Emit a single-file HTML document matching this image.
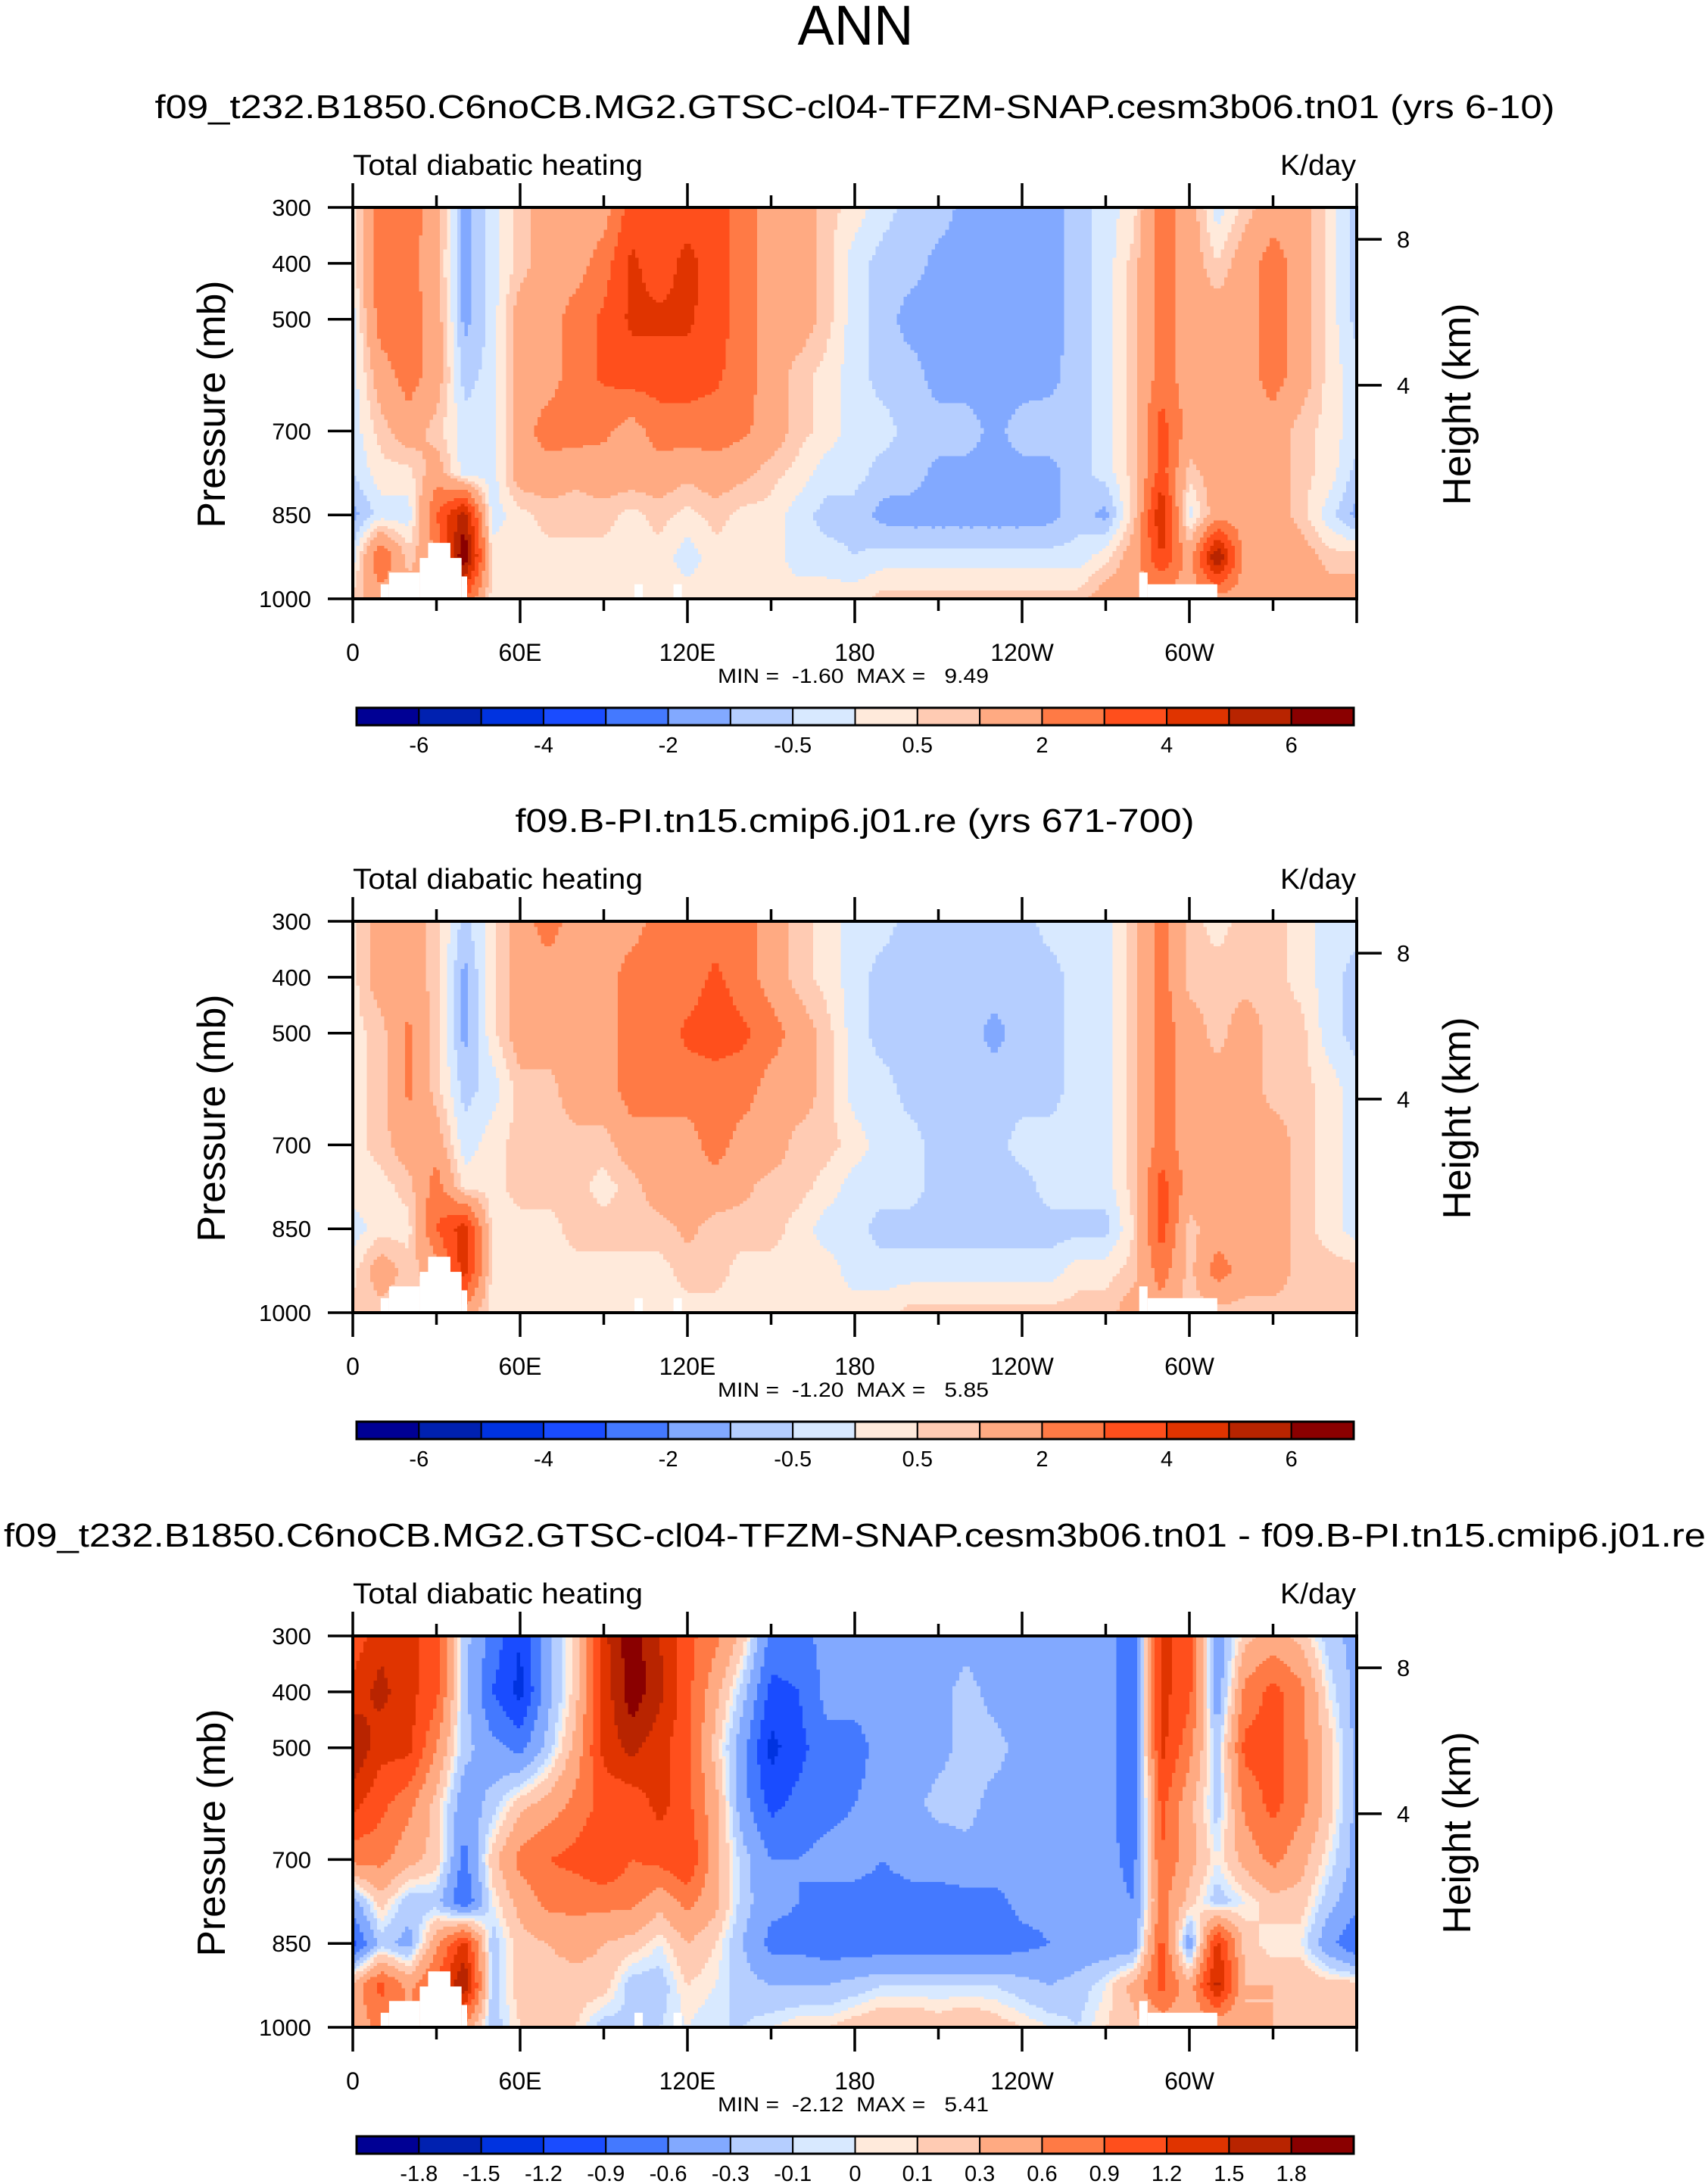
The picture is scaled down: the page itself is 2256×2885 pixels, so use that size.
<!DOCTYPE html>
<html><head><meta charset="utf-8"><title>ANN Total diabatic heating</title>
<style>
html,body{margin:0;padding:0;background:#fff;}
svg{display:block;}
text{font-family:"Liberation Sans",Arial,sans-serif;fill:#000;white-space:pre;}
</style></head>
<body>
<svg id="chart" xmlns="http://www.w3.org/2000/svg" width="2256" height="2885" viewBox="0 0 2256 2885">
<rect x="0" y="0" width="2256" height="2885" fill="#fff"/>
<text x="1130" y="59" font-size="74" text-anchor="middle" textLength="153" lengthAdjust="spacingAndGlyphs">ANN</text>
</svg>
<script>
// ---------- data ----------
const pressureLevels = [300,400,500,600,700,775,850,925,1000];
const longitudes = [0,10,20,30,40,50,60,70,80,90,100,110,120,130,140,150,160,170,180,190,200,210,220,230,240,250,260,270,280,290,300,310,320,330,340,350,360];

const field1 = [
[0.3,2.5,2.5,1.5,-1.2,-0.3,0.7,1.5,1.5,1.5,3.5,3.5,3.5,3.5,2.5,1.5,1.5,0.7,0.3,-0.3,-0.7,-0.7,-1.2,-1.3,-1.2,-1.3,-0.7,-0.3,0.3,2.5,1.5,-0.3,0.7,1.5,1.5,0.3,-0.7],
[0.3,2.5,2.5,1.2,-1.2,-0.3,0.7,1.5,1.5,2.5,4.2,3.5,4.3,3.5,2.5,1.5,1.5,0.7,-0.3,-0.7,-0.7,-1.2,-1.3,-1.3,-1.3,-1.3,-0.7,-0.3,0.7,2.5,1.5,0.5,1.5,2.5,1.5,0.3,-0.7],
[-0.3,2.5,2.5,1.5,-1.2,-0.3,1.5,1.5,2.5,3.2,4.2,4.2,4.2,3.5,2.5,1.5,1.5,0.7,-0.3,-0.7,-1.3,-1.3,-1.3,-1.3,-1.3,-1.3,-0.7,-0.3,0.7,2.5,1.5,1.5,1.5,2.5,1.5,0.3,-0.7],
[-0.3,1.5,2.5,1.5,-0.7,-0.3,1.5,1.5,2.5,3.2,3.5,3.5,3.5,3.2,2.5,1.5,0.7,0.3,-0.3,-0.7,-0.7,-1.3,-1.3,-1.3,-1.3,-1.2,-0.7,-0.3,0.7,2.5,1.5,1.5,1.5,2.5,1.5,0.3,-0.3],
[-0.3,0.7,1.5,0.7,-0.3,-0.3,1.5,2.5,2.5,2.2,1.5,2.5,2.5,2.5,2.2,1.5,0.7,0.3,-0.3,-0.3,-0.7,-0.7,-0.7,-1.2,-0.7,-0.7,-0.7,-0.3,0.7,3.5,1.5,1.5,1.5,1.5,0.7,0.3,-0.3],
[-0.5,0.3,0.3,1.5,-0.3,-0.3,1.5,1.5,1.2,1.5,1.5,1.5,1.2,1.5,1.2,0.7,0.3,-0.3,-0.3,-0.7,-0.7,-1.2,-1.2,-1.3,-1.2,-1.2,-0.7,-0.3,0.7,3.5,0.7,1.5,1.5,1.5,0.7,0.3,-0.7],
[-1.2,-0.3,-0.3,3.0,5.5,-0.3,0.3,0.7,0.7,0.7,0.3,0.7,0.3,0.7,0.3,0.3,-0.3,-0.7,-0.7,-1.2,-1.3,-1.3,-1.3,-1.3,-1.3,-1.2,-0.7,-1.2,0.7,5.0,-0.3,1.5,1.5,1.5,0.7,-0.3,-1.2],
[-0.3,3.0,0.7,2.0,7.0,0.3,0.3,0.3,0.3,0.3,0.3,0.3,-0.3,0.3,0.3,0.3,-0.3,-0.3,-0.5,-0.3,-0.3,-0.3,-0.3,-0.3,-0.3,-0.3,-0.3,0.3,1.5,4.0,1.5,6.0,1.5,1.5,1.5,0.7,0.7],
[0.7,1.5,1.5,1.5,3.0,0.3,0.3,0.3,0.3,0.3,0.3,0.3,0.3,0.3,0.3,0.3,0.3,0.3,0.3,0.7,0.7,0.7,0.7,0.7,0.7,0.7,0.7,1.5,1.5,1.5,1.5,1.5,1.5,1.5,1.5,1.5,1.5]
];

const field2 = [
[0.3,1.5,1.5,0.7,-0.7,0.3,1.5,2.5,1.5,1.5,1.5,2.5,2.5,2.5,2.5,1.5,0.7,0.3,-0.3,-0.3,-0.7,-0.7,-0.7,-0.7,-0.7,-0.3,-0.3,-0.3,0.7,2.5,0.7,0.3,0.7,0.7,0.3,-0.3,-0.3],
[0.3,1.5,1.5,0.7,-1.2,0.3,1.5,1.5,1.5,1.5,2.5,2.5,2.5,3.2,2.5,1.5,0.7,0.3,-0.3,-0.7,-0.7,-0.7,-0.7,-0.7,-0.7,-0.7,-0.3,-0.3,0.7,2.5,0.7,0.7,0.7,0.7,0.3,-0.3,-0.7],
[0.3,0.7,2.2,0.7,-1.2,0.3,1.5,1.5,1.5,1.5,2.5,2.5,3.2,3.5,3.2,2.5,1.5,0.7,-0.3,-0.7,-0.7,-0.7,-0.7,-1.2,-0.7,-0.7,-0.3,-0.3,0.7,2.5,1.5,0.7,1.5,0.7,0.7,-0.3,-0.7],
[0.3,0.7,2.2,0.7,-0.7,-0.3,0.7,0.7,1.5,1.5,2.5,2.5,2.5,2.5,2.5,1.5,1.5,0.7,-0.3,-0.3,-0.7,-0.7,-0.7,-0.7,-0.7,-0.7,-0.3,-0.3,0.7,2.5,1.5,1.5,1.5,0.7,0.7,0.3,-0.3],
[0.3,0.7,1.5,1.5,-0.3,0.3,0.7,0.7,0.7,0.7,1.5,1.5,1.5,2.5,1.5,1.5,0.7,0.7,0.3,-0.3,-0.3,-0.7,-0.7,-0.7,-0.3,-0.3,-0.3,-0.3,0.7,2.5,1.5,1.5,1.5,1.5,0.7,0.3,-0.3],
[0.3,0.3,0.7,2.5,0.3,0.3,0.7,0.7,0.7,0.3,0.7,1.5,1.5,1.5,1.2,0.7,0.7,0.3,-0.3,-0.3,-0.3,-0.7,-0.7,-0.7,-0.7,-0.3,-0.3,-0.3,0.7,3.5,1.5,1.5,1.5,1.5,0.7,0.3,-0.3],
[-0.3,0.3,0.3,3.0,4.5,0.3,0.3,0.3,0.7,0.7,0.7,0.7,1.2,0.7,0.7,0.7,0.3,-0.3,-0.3,-0.7,-0.7,-0.7,-0.7,-0.7,-0.7,-0.7,-0.7,-0.7,0.5,3.5,0.7,1.5,1.5,1.5,0.7,0.3,-0.3],
[0.3,1.5,0.7,1.5,4.5,0.3,0.3,0.3,0.3,0.3,0.3,0.3,0.7,0.7,0.3,0.3,0.3,0.3,-0.3,-0.3,-0.3,-0.3,-0.3,-0.3,-0.3,-0.3,0.3,0.3,0.7,2.5,0.7,2.5,1.5,1.5,0.7,0.7,0.7],
[0.7,0.7,0.7,0.7,1.5,0.3,0.3,0.3,0.3,0.3,0.3,0.3,0.3,0.3,0.3,0.3,0.3,0.3,0.3,0.3,0.7,0.7,0.7,0.7,0.7,0.7,0.7,0.7,1.5,1.5,0.7,0.7,0.7,0.7,0.7,0.7,0.7]
];

const field3 = [
[1.0,1.4,1.3,1.0,-0.2,-0.7,-1.2,-0.4,0.2,1.4,2.0,1.5,1.0,0.7,0.2,-0.7,-0.7,-0.5,-0.5,-0.4,-0.4,-0.5,-0.4,-0.5,-0.5,-0.5,-0.5,-0.5,-0.8,1.3,1.0,-0.5,0.2,0.4,0.2,-0.2,-0.4],
[1.3,1.6,1.3,1.0,-0.2,-0.9,-1.3,-0.4,0.2,1.3,2.0,1.6,1.0,0.4,-0.2,-1.0,-0.9,-0.5,-0.5,-0.5,-0.5,-0.4,-0.2,-0.4,-0.5,-0.5,-0.5,-0.5,-0.8,1.3,1.0,-0.5,0.7,1.0,0.7,0.0,-0.4],
[1.8,1.3,1.3,0.6,-0.2,-0.5,-0.7,-0.2,0.4,1.3,1.6,1.3,1.0,0.2,-0.5,-1.3,-1.0,-0.7,-0.7,-0.5,-0.5,-0.4,-0.2,-0.2,-0.4,-0.5,-0.5,-0.5,-0.8,1.3,0.7,-0.2,1.0,1.0,0.7,0.2,-0.4],
[1.3,1.0,0.7,0.2,-0.5,-0.2,0.2,0.4,0.7,1.0,1.0,1.3,1.0,0.4,-0.5,-1.0,-0.8,-0.7,-0.6,-0.5,-0.4,-0.2,-0.2,-0.4,-0.4,-0.5,-0.5,-0.5,-0.8,1.0,0.4,-0.2,0.7,1.0,0.7,0.2,-0.4],
[0.7,0.7,0.4,0.2,-0.7,0.2,0.7,0.9,1.0,1.2,0.9,1.0,1.2,0.4,-0.2,-0.6,-0.6,-0.5,-0.5,-0.6,-0.5,-0.5,-0.4,-0.4,-0.5,-0.5,-0.5,-0.5,-0.7,0.9,0.4,0.0,0.4,0.7,0.4,0.0,-0.4],
[-0.4,0.2,-0.2,-0.2,-0.9,0.0,0.4,0.7,0.7,0.7,0.7,0.4,0.7,0.4,-0.2,-0.5,-0.6,-0.7,-0.7,-0.7,-0.7,-0.7,-0.7,-0.7,-0.5,-0.5,-0.5,-0.5,-0.6,0.7,0.2,-0.2,0.0,0.2,0.2,-0.2,-0.5],
[-1.0,-0.2,-0.4,0.5,1.3,-0.2,0.2,0.3,0.4,0.3,0.2,0.0,0.3,0.1,-0.3,-0.7,-0.7,-0.8,-0.8,-0.8,-0.8,-0.8,-0.8,-0.8,-0.7,-0.6,-0.5,-0.5,-0.5,1.0,-0.5,1.3,0.2,0.0,0.0,-0.5,-0.9],
[0.4,1.0,0.5,1.0,1.8,-0.2,0.2,0.2,0.2,0.2,-0.2,-0.2,0.1,0.0,-0.2,-0.3,-0.3,-0.3,-0.2,-0.1,-0.1,-0.1,-0.1,-0.1,-0.2,-0.3,-0.2,0.0,0.4,1.0,0.4,1.6,0.3,0.3,0.3,0.2,0.2],
[0.4,0.7,0.7,0.7,0.5,-0.2,0.1,0.2,0.1,-0.2,-0.1,-0.1,0.0,-0.1,-0.1,0.0,0.1,0.1,0.2,0.3,0.3,0.2,0.3,0.2,0.1,0.0,-0.1,0.1,0.2,0.4,0.4,0.3,0.3,0.3,0.2,0.3,0.3]
];

const contourLevelsAbs = [-6,-5,-4,-3,-2,-1,-0.5,0,0.5,1,2,3,4,5,6];
const contourLevelsDiff = [-1.8,-1.5,-1.2,-0.9,-0.6,-0.3,-0.1,0,0.1,0.3,0.6,0.9,1.2,1.5,1.8];
const colorbarLabelsAbs = ["","-6","","-4","","-2","","-0.5","","0.5","","2","","4","","6",""];
const colorbarLabelsDiff = ["","-1.8","-1.5","-1.2","-0.9","-0.6","-0.3","-0.1","0","0.1","0.3","0.6","0.9","1.2","1.5","1.8",""];
const palette = ["#000094","#0021b0","#0033e0","#1a4cff","#4479ff","#82a9ff","#b5ceff","#d8e9ff","#ffeadb","#ffcbb3","#ffaa82","#ff7a45","#ff4f1c","#e03400","#b82400","#8a0000"];
const xTickValues = [0,60,120,180,240,300,360];
const xTickLabels = ["0","60E","120E","180","120W","60W",""];
const yTickValues = [300,400,500,700,850,1000];
const heightTickLabels = ["8","4"];
const heightTickPressures = [357,618];
const panelTitles = [
  "f09_t232.B1850.C6noCB.MG2.GTSC-cl04-TFZM-SNAP.cesm3b06.tn01 (yrs 6-10)",
  "f09.B-PI.tn15.cmip6.j01.re (yrs 671-700)",
  "f09_t232.B1850.C6noCB.MG2.GTSC-cl04-TFZM-SNAP.cesm3b06.tn01 - f09.B-PI.tn15.cmip6.j01.re"
];
const panelMinMax = ["MIN =  -1.60  MAX =   9.49","MIN =  -1.20  MAX =   5.85","MIN =  -2.12  MAX =   5.41"];

// ---------- layout ----------
const NS = "http://www.w3.org/2000/svg";
const svg = document.getElementById('chart');
const X0 = 466, X1 = 1792, PH = 517;
const panelTops = [274, 1217, 2161];
const titleLens = [1849, 897, 2248];
const CB0 = 471, CB1 = 1788;

function mk(tag, attrs, parent) {
  const e = document.createElementNS(NS, tag);
  for (const k in attrs) e.setAttribute(k, attrs[k]);
  (parent || svg).appendChild(e);
  return e;
}
function xOf(lon) { return X0 + (lon / 360) * (X1 - X0); }
function yOfP(p, top) { return top + (p - 300) / 700 * PH; }

function sample(field, lon, p) {
  let i = Math.min(Math.floor(lon / 10), longitudes.length - 2);
  const tx = (lon - longitudes[i]) / (longitudes[i + 1] - longitudes[i]);
  let j = 0;
  while (j < pressureLevels.length - 2 && p > pressureLevels[j + 1]) j++;
  const ty = (p - pressureLevels[j]) / (pressureLevels[j + 1] - pressureLevels[j]);
  const a = field[j][i] * (1 - tx) + field[j][i + 1] * tx;
  const b = field[j + 1][i] * (1 - tx) + field[j + 1][i + 1] * tx;
  return a * (1 - ty) + b * ty;
}
function classOf(v, levels) {
  let c = 0;
  while (c < levels.length && v >= levels[c]) c++;
  return c;
}

function drawPanel(k, field, levels, labels) {
  const top = panelTops[k];
  const d = top - 274;
  const g = mk('g', {});
  
  

  mk('text', {x: 1129, y: 156 + d, 'font-size': 44, 'text-anchor': 'middle', textLength: titleLens[k], lengthAdjust: 'spacingAndGlyphs',  }, g).textContent = panelTitles[k];
  mk('text', {x: 466, y: 231 + d, 'font-size': 38, textLength: 383, lengthAdjust: 'spacingAndGlyphs',  }, g).textContent = 'Total diabatic heating';
  mk('text', {x: 1791, y: 231 + d, 'font-size': 38, 'text-anchor': 'end', textLength: 100, lengthAdjust: 'spacingAndGlyphs',  }, g).textContent = 'K/day';

  const fg = mk('g', {'shape-rendering': 'crispEdges'}, g);
  
  
  const dLon = 1.25, dP = 5;
  const nC = Math.round(360 / dLon), nR = Math.round(700 / dP);
  for (let r = 0; r < nR; r++) {
    const p0 = 300 + r * dP, pc = p0 + dP / 2;
    const y0 = yOfP(p0, top), y1 = yOfP(p0 + dP, top);
    let start = 0, cur = classOf(sample(field, dLon / 2, pc), levels);
    for (let c = 1; c <= nC; c++) {
      const cl = c < nC ? classOf(sample(field, c * dLon + dLon / 2, pc), levels) : -1;
      if (cl !== cur) {
        const xa = xOf(start * dLon), xb = xOf(c * dLon);
        const cell = mk('rect', {x: xa.toFixed(2), y: y0.toFixed(2), width: (xb - xa + 0.6).toFixed(2), height: (y1 - y0 + 0.6).toFixed(2), fill: palette[cur]}, fg);
        
        
        start = c; cur = cl;
      }
    }
  }
  const masks = [[10,974,13,1000],[13,953,24,1000],[24,927,39,1000],[27,900,35,1000],[39,960,41,1000],[101,974,104,1000],[115,974,118,1000],[282,953,285,1000],[285,974,310,1000]];
  for (const m of masks) {
    const mr = mk('rect', {x: xOf(m[0]), y: yOfP(m[1], top), width: xOf(m[2]) - xOf(m[0]), height: yOfP(m[3], top) - yOfP(m[1], top) + 1, fill: '#fff'}, g);
    
    
  }
  mk('rect', {x: X0, y: top, width: X1 - X0, height: PH, fill: 'none', stroke: '#000', 'stroke-width': 4,  }, g);
  for (let lon = 0; lon <= 360; lon += 30) {
    const major = lon % 60 === 0;
    const L = major ? 32 : 16;
    const x = xOf(lon);
    mk('line', {x1: x, x2: x, y1: top, y2: top - L, stroke: '#000', 'stroke-width': 3.5,  }, g);
    mk('line', {x1: x, x2: x, y1: top + PH, y2: top + PH + L, stroke: '#000', 'stroke-width': 3.5,  }, g);
  }
  xTickValues.forEach((v, i) => {
    if (!xTickLabels[i]) return;
    mk('text', {x: xOf(v), y: top + 599, 'font-size': 32, 'text-anchor': 'middle',  }, g).textContent = xTickLabels[i];
  });
  mk('text', {x: 1127, y: top + 628, 'font-size': 27, 'text-anchor': 'middle', textLength: 358, lengthAdjust: 'spacingAndGlyphs',  }, g).textContent = panelMinMax[k];
  yTickValues.forEach(p => {
    const y = yOfP(p, top);
    mk('line', {x1: X0 - 33, x2: X0, y1: y, y2: y, stroke: '#000', 'stroke-width': 3.5,  }, g);
    mk('text', {x: 411, y: y + 11, 'font-size': 31, 'text-anchor': 'end',  }, g).textContent = String(p);
  });
  heightTickPressures.forEach((p, i) => {
    const y = yOfP(p, top);
    mk('line', {x1: X1, x2: X1 + 33, y1: y, y2: y, stroke: '#000', 'stroke-width': 3.5,  }, g);
    mk('text', {x: 1845, y: y + 11, 'font-size': 31,  }, g).textContent = heightTickLabels[i];
  });
  mk('text', {x: 297, y: top + 260, 'font-size': 52, 'text-anchor': 'middle', textLength: 327, lengthAdjust: 'spacingAndGlyphs', transform: 'rotate(-90 297 ' + (top + 260) + ')',  }, g).textContent = 'Pressure (mb)';
  mk('text', {x: 1942, y: top + 260, 'font-size': 52, 'text-anchor': 'middle', textLength: 267, lengthAdjust: 'spacingAndGlyphs', transform: 'rotate(-90 1942 ' + (top + 260) + ')',  }, g).textContent = 'Height (km)';

  const cg = mk('g', {}, g);
  
  
  const cbTop = top + 661, cbH = 23;
  const bw = (CB1 - CB0) / palette.length;
  palette.forEach((col, i) => {
    const b = mk('rect', {x: CB0 + i * bw, y: cbTop, width: bw, height: cbH, fill: col, stroke: '#000', 'stroke-width': 2}, cg);
    
    
  });
  mk('rect', {x: CB0, y: cbTop, width: CB1 - CB0, height: cbH, fill: 'none', stroke: '#000', 'stroke-width': 3,  }, cg);
  labels.forEach((t, i) => {
    if (!t) return;
    mk('text', {x: CB0 + i * bw, y: cbTop + 59, 'font-size': 29, 'text-anchor': 'middle',  }, cg).textContent = t;
  });
}

drawPanel(0, field1, contourLevelsAbs, colorbarLabelsAbs);
drawPanel(1, field2, contourLevelsAbs, colorbarLabelsAbs);
drawPanel(2, field3, contourLevelsDiff, colorbarLabelsDiff);
</script>
</body></html>
